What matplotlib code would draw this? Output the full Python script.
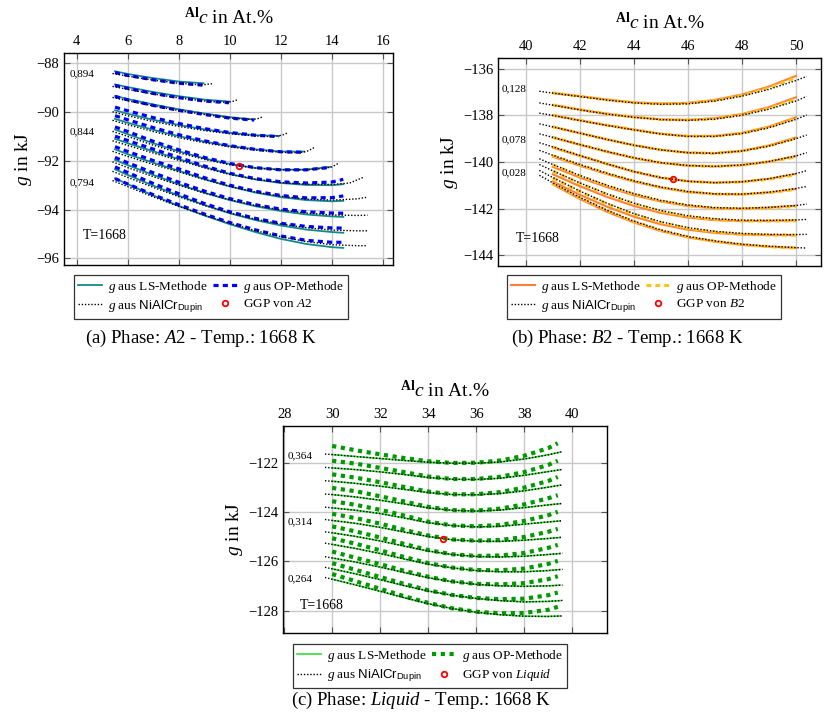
import numpy as np
import matplotlib
matplotlib.use('Agg')
import matplotlib.pyplot as plt
from matplotlib.lines import Line2D

plt.rcParams['font.family'] = ['Liberation Serif', 'DejaVu Serif']
plt.rcParams['mathtext.fontset'] = 'custom'
plt.rcParams['mathtext.rm'] = 'Liberation Serif'
plt.rcParams['mathtext.it'] = 'Liberation Serif:italic'
plt.rcParams['mathtext.bf'] = 'Liberation Serif:bold'
plt.rcParams['mathtext.sf'] = 'Liberation Sans'

# ---------------- Phase A2 ----------------
a_dup_x = [[5.4, 6, 7, 8, 8.6, 9.0, 9.3],
           [5.4, 6, 7, 8, 9, 9.5, 9.9, 10.1, 10.3],
           [5.4, 6, 7, 8, 9, 10, 10.5, 10.9, 11.1, 11.3],
           [5.4, 6, 7, 8, 9, 10, 11, 11.5, 11.9, 12.1, 12.3],
           [5.4, 6, 7, 8, 9, 10, 11, 12, 12.5, 12.9, 13.1, 13.3],
           [5.4, 6, 7, 8, 9, 10, 11, 12, 13, 13.7, 14.0, 14.3],
           [5.4, 6, 7, 8, 9, 10, 11, 12, 13, 14, 14.7, 15.27],
           [5.4, 6, 7, 8, 9, 10, 11, 12, 13, 14, 15, 15.4],
           [5.4, 6, 7, 8, 9, 10, 11, 12, 13, 14, 15, 15.4],
           [5.4, 6, 7, 8, 9, 10, 11, 12, 13, 14, 15, 15.4],
           [5.4, 6, 7, 8, 9, 10, 11, 12, 13, 14, 15, 15.4]]
a_dup_y = [[-88.42, -88.53, -88.69, -88.82, -88.87, -88.88, -88.84],
           [-88.95, -89.07, -89.26, -89.42, -89.55, -89.59, -89.60, -89.57, -89.50],
           [-89.40, -89.54, -89.75, -89.94, -90.10, -90.24, -90.29, -90.30, -90.27, -90.19],
           [-89.99, -90.15, -90.39, -90.59, -90.76, -90.89, -90.98, -91.00, -90.98, -90.93, -90.84],
           [-90.34, -90.52, -90.80, -91.05, -91.26, -91.43, -91.56, -91.65, -91.67, -91.64, -91.58, -91.46],
           [-90.79, -91.00, -91.36, -91.67, -91.94, -92.16, -92.30, -92.37, -92.37, -92.31, -92.25, -92.08],
           [-91.18, -91.37, -91.68, -91.98, -92.29, -92.56, -92.76, -92.89, -92.96, -92.97, -92.91, -92.66],
           [-91.61, -91.82, -92.15, -92.45, -92.77, -93.05, -93.28, -93.45, -93.57, -93.61, -93.56, -93.49],
           [-92.04, -92.28, -92.65, -93.00, -93.32, -93.60, -93.83, -94.01, -94.14, -94.22, -94.24, -94.23],
           [-92.43, -92.68, -93.09, -93.47, -93.83, -94.14, -94.39, -94.59, -94.74, -94.84, -94.87, -94.87],
           [-92.81, -93.06, -93.48, -93.87, -94.23, -94.56, -94.86, -95.11, -95.31, -95.44, -95.48, -95.48]]
a_ls_x = [[5.5, 6, 7, 8, 8.97],
          [5.5, 6, 7, 8, 9, 9.97],
          [5.5, 6, 7, 8, 9, 10, 10.95],
          [5.5, 6, 7, 8, 9, 10, 11, 11.93],
          [5.5, 6, 7, 8, 9, 10, 11, 12, 12.91],
          [5.5, 6, 7, 8, 9, 10, 11, 12, 13, 13.93],
          [5.5, 6, 7, 8, 9, 10, 11, 12, 13, 14, 14.45],
          [5.5, 6, 7, 8, 9, 10, 11, 12, 13, 14, 14.45],
          [5.5, 6, 7, 8, 9, 10, 11, 12, 13, 14, 14.45],
          [5.5, 6, 7, 8, 9, 10, 11, 12, 13, 14, 14.45],
          [5.5, 6, 7, 8, 9, 10, 11, 12, 13, 14, 14.45]]
a_ls_y = [[-88.33, -88.44, -88.61, -88.75, -88.82],
          [-88.87, -88.98, -89.18, -89.35, -89.49, -89.57],
          [-89.34, -89.47, -89.69, -89.89, -90.06, -90.21, -90.31],
          [-89.93, -90.07, -90.32, -90.53, -90.71, -90.85, -90.95, -90.98],
          [-90.28, -90.44, -90.73, -90.99, -91.21, -91.39, -91.53, -91.62, -91.62],
          [-90.72, -90.91, -91.28, -91.61, -91.90, -92.13, -92.29, -92.36, -92.36, -92.25],
          [-91.10, -91.28, -91.61, -91.93, -92.25, -92.54, -92.76, -92.91, -92.99, -93.00, -92.96],
          [-91.53, -91.73, -92.08, -92.41, -92.75, -93.05, -93.30, -93.49, -93.61, -93.66, -93.64],
          [-91.96, -92.18, -92.58, -92.96, -93.31, -93.61, -93.86, -94.06, -94.20, -94.28, -94.30],
          [-92.35, -92.58, -93.02, -93.43, -93.81, -94.15, -94.43, -94.65, -94.82, -94.92, -94.95],
          [-92.72, -92.96, -93.42, -93.85, -94.24, -94.60, -94.92, -95.20, -95.41, -95.54, -95.57]]
a_op_y = [[-88.38, -88.50, -88.68, -88.82, -88.90],
          [-88.91, -89.03, -89.24, -89.41, -89.55, -89.62],
          [-89.36, -89.50, -89.73, -89.93, -90.10, -90.25, -90.33],
          [-89.80, -89.95, -90.23, -90.47, -90.68, -90.84, -90.95, -91.01],
          [-90.15, -90.32, -90.64, -90.93, -91.18, -91.38, -91.53, -91.63, -91.65],
          [-90.61, -90.80, -91.20, -91.55, -91.86, -92.11, -92.28, -92.37, -92.37, -92.27],
          [-90.99, -91.17, -91.52, -91.86, -92.21, -92.51, -92.73, -92.86, -92.91, -92.87, -92.76],
          [-91.42, -91.62, -91.99, -92.33, -92.69, -93.00, -93.25, -93.42, -93.52, -93.51, -93.44],
          [-91.86, -92.08, -92.49, -92.88, -93.24, -93.55, -93.80, -93.98, -94.09, -94.14, -94.15],
          [-92.25, -92.48, -92.93, -93.35, -93.75, -94.09, -94.36, -94.56, -94.69, -94.75, -94.76],
          [-92.73, -92.95, -93.39, -93.80, -94.18, -94.53, -94.83, -95.08, -95.26, -95.34, -95.34]]
a_ggp = (10.37, -92.22)
a_labels = ['0,894', '0,844', '0,794']
a_label_y = [-88.44, -90.80, -92.89]

# ---------------- Phase B2 ----------------
b_dup_x = [40.5, 41, 42, 43, 44, 45, 46, 47, 48, 49, 50, 50.4]
b_dup_y = [[-136.96, -137.04, -137.19, -137.34, -137.46, -137.52, -137.50, -137.38, -137.17, -136.88, -136.50, -136.32],
           [-137.46, -137.56, -137.76, -137.94, -138.08, -138.18, -138.21, -138.16, -137.99, -137.73, -137.38, -137.18],
           [-137.90, -138.00, -138.22, -138.43, -138.62, -138.80, -138.90, -138.90, -138.78, -138.53, -138.17, -137.98],
           [-138.36, -138.49, -138.76, -139.03, -139.28, -139.48, -139.60, -139.63, -139.53, -139.32, -139.00, -138.84],
           [-138.79, -138.94, -139.25, -139.55, -139.82, -140.03, -140.15, -140.19, -140.13, -139.98, -139.74, -139.60],
           [-139.17, -139.35, -139.72, -140.08, -140.41, -140.67, -140.83, -140.89, -140.85, -140.72, -140.50, -140.37],
           [-139.50, -139.71, -140.11, -140.48, -140.81, -141.08, -141.27, -141.37, -141.38, -141.30, -141.14, -141.05],
           [-139.86, -140.11, -140.58, -141.00, -141.36, -141.65, -141.85, -141.96, -141.99, -141.95, -141.87, -141.81],
           [-140.11, -140.38, -140.90, -141.37, -141.77, -142.09, -142.31, -142.44, -142.50, -142.51, -142.49, -142.47],
           [-140.36, -140.67, -141.25, -141.77, -142.22, -142.57, -142.82, -142.98, -143.07, -143.11, -143.12, -143.11],
           [-140.57, -140.90, -141.52, -142.07, -142.54, -142.92, -143.20, -143.39, -143.53, -143.62, -143.68, -143.70]]
b_ls_x = [41, 42, 43, 44, 45, 46, 47, 48, 49, 50]
b_ls_y = [[-137.03, -137.17, -137.32, -137.44, -137.49, -137.46, -137.33, -137.10, -136.76, -136.30],
          [-137.55, -137.75, -137.93, -138.07, -138.17, -138.19, -138.12, -137.94, -137.64, -137.22],
          [-137.99, -138.21, -138.42, -138.61, -138.79, -138.89, -138.88, -138.75, -138.48, -138.08],
          [-138.49, -138.76, -139.03, -139.28, -139.48, -139.60, -139.62, -139.52, -139.29, -138.95],
          [-138.95, -139.26, -139.56, -139.83, -140.04, -140.16, -140.19, -140.13, -139.98, -139.75],
          [-139.38, -139.74, -140.09, -140.42, -140.68, -140.83, -140.89, -140.85, -140.72, -140.51],
          [-139.77, -140.16, -140.52, -140.84, -141.10, -141.29, -141.38, -141.39, -141.31, -141.16],
          [-140.21, -140.67, -141.08, -141.43, -141.70, -141.89, -141.99, -142.01, -141.96, -141.88],
          [-140.53, -141.04, -141.50, -141.89, -142.19, -142.39, -142.50, -142.54, -142.53, -142.51],
          [-140.84, -141.41, -141.92, -142.35, -142.68, -142.91, -143.05, -143.12, -143.14, -143.14],
          [-140.96, -141.59, -142.14, -142.60, -142.97, -143.24, -143.42, -143.56, -143.64, -143.69]]
b_op_y = [[-137.03, -137.18, -137.33, -137.45, -137.50, -137.48, -137.36, -137.14, -136.82, -136.38],
          [-137.55, -137.75, -137.93, -138.07, -138.17, -138.20, -138.14, -137.97, -137.69, -137.30],
          [-137.99, -138.21, -138.42, -138.61, -138.79, -138.89, -138.89, -138.77, -138.51, -138.13],
          [-138.49, -138.76, -139.03, -139.28, -139.48, -139.60, -139.63, -139.53, -139.31, -138.98],
          [-138.94, -139.25, -139.55, -139.82, -140.03, -140.15, -140.19, -140.14, -139.99, -139.78],
          [-139.36, -139.73, -140.08, -140.41, -140.67, -140.83, -140.89, -140.86, -140.74, -140.55],
          [-139.73, -140.13, -140.49, -140.82, -141.09, -141.28, -141.38, -141.39, -141.32, -141.18],
          [-140.13, -140.60, -141.02, -141.38, -141.67, -141.87, -141.98, -142.01, -141.97, -141.91],
          [-140.40, -140.92, -141.39, -141.79, -142.12, -142.34, -142.47, -142.53, -142.54, -142.53],
          [-140.69, -141.27, -141.80, -142.25, -142.60, -142.85, -143.01, -143.10, -143.14, -143.15],
          [-140.92, -141.54, -142.09, -142.56, -142.94, -143.22, -143.41, -143.55, -143.64, -143.70]]
b_ggp = (45.44, -140.72)
b_labels = ['0,128', '0,078', '0,028']
b_label_y = [-136.87, -139.05, -140.46]

# ---------------- Phase Liquid ----------------
c_dup_x = [29.7, 30, 31, 32, 33, 34, 35, 36, 37, 38, 39, 39.6]
c_dup_y = [[-121.65, -121.67, -121.75, -121.83, -121.91, -121.98, -122.02, -122.02, -121.97, -121.85, -121.68, -121.55],
           [-122.19, -122.21, -122.28, -122.37, -122.48, -122.60, -122.67, -122.68, -122.63, -122.51, -122.36, -122.27],
           [-122.73, -122.75, -122.84, -122.95, -123.08, -123.21, -123.29, -123.30, -123.25, -123.14, -122.99, -122.90],
           [-123.27, -123.29, -123.39, -123.52, -123.67, -123.83, -123.93, -123.96, -123.92, -123.82, -123.71, -123.65],
           [-123.80, -123.83, -123.93, -124.06, -124.24, -124.43, -124.55, -124.60, -124.58, -124.49, -124.40, -124.35],
           [-124.30, -124.34, -124.46, -124.62, -124.81, -124.99, -125.12, -125.18, -125.19, -125.14, -125.07, -125.02],
           [-124.80, -124.84, -124.99, -125.17, -125.38, -125.58, -125.72, -125.80, -125.82, -125.79, -125.72, -125.67],
           [-125.26, -125.31, -125.48, -125.68, -125.90, -126.11, -126.26, -126.37, -126.42, -126.42, -126.37, -126.32],
           [-125.81, -125.86, -126.03, -126.23, -126.45, -126.66, -126.82, -126.93, -126.99, -127.01, -126.99, -126.96],
           [-126.24, -126.30, -126.51, -126.74, -126.98, -127.20, -127.37, -127.50, -127.59, -127.64, -127.62, -127.58],
           [-126.65, -126.72, -126.96, -127.21, -127.47, -127.71, -127.91, -128.06, -128.16, -128.22, -128.23, -128.21]]
c_ls_x = [30, 31, 32, 33, 34, 35, 36, 37, 38, 39, 39.5]
c_ls_y = [[-121.67, -121.75, -121.83, -121.91, -121.98, -122.02, -122.02, -121.97, -121.85, -121.68, -121.57],
          [-122.21, -122.28, -122.37, -122.48, -122.60, -122.67, -122.68, -122.63, -122.51, -122.36, -122.29],
          [-122.75, -122.84, -122.95, -123.08, -123.21, -123.29, -123.30, -123.25, -123.14, -122.99, -122.91],
          [-123.29, -123.39, -123.52, -123.67, -123.83, -123.93, -123.96, -123.92, -123.82, -123.71, -123.66],
          [-123.83, -123.93, -124.06, -124.24, -124.43, -124.55, -124.60, -124.58, -124.49, -124.40, -124.36],
          [-124.34, -124.46, -124.62, -124.81, -124.99, -125.12, -125.18, -125.19, -125.14, -125.07, -125.03],
          [-124.84, -124.99, -125.17, -125.38, -125.58, -125.72, -125.80, -125.82, -125.79, -125.72, -125.68],
          [-125.31, -125.48, -125.68, -125.90, -126.11, -126.26, -126.37, -126.42, -126.42, -126.37, -126.33],
          [-125.86, -126.03, -126.23, -126.45, -126.66, -126.82, -126.93, -126.99, -127.01, -126.99, -126.96],
          [-126.30, -126.51, -126.74, -126.98, -127.20, -127.37, -127.50, -127.59, -127.64, -127.62, -127.59],
          [-126.72, -126.96, -127.21, -127.47, -127.71, -127.91, -128.06, -128.16, -128.22, -128.23, -128.21]]
c_op_x = [30, 31, 32, 33, 34, 35, 36, 37, 38, 39, 39.4]
c_op_y = [[-121.32, -121.50, -121.66, -121.81, -121.94, -122.01, -122.00, -121.91, -121.72, -121.41, -121.21],
          [-121.92, -122.04, -122.21, -122.38, -122.56, -122.66, -122.66, -122.57, -122.38, -122.09, -121.92],
          [-122.47, -122.61, -122.79, -122.98, -123.17, -123.28, -123.28, -123.19, -123.01, -122.74, -122.58],
          [-123.02, -123.16, -123.36, -123.57, -123.79, -123.92, -123.94, -123.86, -123.69, -123.44, -123.32],
          [-123.56, -123.71, -123.91, -124.14, -124.39, -124.54, -124.58, -124.52, -124.36, -124.13, -123.99],
          [-124.07, -124.25, -124.47, -124.72, -124.95, -125.11, -125.16, -125.13, -125.01, -124.80, -124.68],
          [-124.58, -124.79, -125.03, -125.29, -125.54, -125.71, -125.78, -125.76, -125.66, -125.45, -125.33],
          [-125.06, -125.29, -125.55, -125.82, -126.07, -126.25, -126.35, -126.36, -126.29, -126.10, -125.98],
          [-125.60, -125.86, -126.11, -126.38, -126.62, -126.81, -126.91, -126.93, -126.88, -126.72, -126.60],
          [-126.07, -126.35, -126.63, -126.91, -127.17, -127.36, -127.48, -127.53, -127.51, -127.37, -127.26],
          [-126.51, -126.81, -127.11, -127.41, -127.68, -127.90, -128.04, -128.10, -128.09, -127.96, -127.84]]
c_ggp = (34.60, -125.08)
c_labels = ['0,364', '0,314', '0,264']
c_label_y = [-121.72, -124.39, -126.69]

fig = plt.figure(figsize=(8.24, 7.23), dpi=100)

dup_style = dict(color='black', lw=1.0, ls=(0, (1, 1.3)), zorder=4)


def setup(ax, xlim, ylim, xticks, yticks):
    ax.set_xlim(*xlim)
    ax.set_ylim(*ylim)
    ax.set_xticks(xticks)
    ax.set_yticks(yticks)
    ax.set_yticklabels(['\u2212%d' % abs(v) for v in yticks])
    ax.grid(True, color='#c8c8c8', lw=1.0)
    ax.set_axisbelow(True)
    ax.tick_params(direction='in', top=True, bottom=True, left=True, right=True,
                   labeltop=True, labelbottom=False, labelsize=10.5, length=4,
                   color='#555555')
    ax.xaxis.set_label_position('top')
    ax.set_xlabel(r'${}^{\mathbf{Al}}c$ in At.%', fontsize=14, labelpad=8)
    ax.set_ylabel(r'$g$ in kJ', fontsize=14, labelpad=2)
    for s in ax.spines.values():
        s.set_linewidth(1.0)


def legend(ax, ls_color, ls_lw, op_color, op_lw, op_ls, phase, anchor):
    handles = [Line2D([], [], color=ls_color, lw=ls_lw),
               Line2D([], [], color='black', lw=1.0, ls=(0, (1, 1.3))),
               Line2D([], [], color=op_color, lw=op_lw, ls=op_ls),
               Line2D([], [], color='red', marker='o', ls='none', ms=4,
                      mfc='none', mew=1.3)]
    labels = [r'$g$ aus LS-Methode',
              r'$g$ aus $\mathsf{NiAlCr}_{\mathsf{Dupin}}$',
              r'$g$ aus OP-Methode',
              r'GGP von $\mathit{%s}$' % phase]
    leg = ax.legend(handles, labels, ncol=2, loc='upper center',
                    bbox_to_anchor=anchor, fontsize=9.5, frameon=True,
                    fancybox=False, edgecolor='black', handlelength=1.8,
                    columnspacing=0.4, handletextpad=0.5, labelspacing=0.25,
                    borderpad=0.3, borderaxespad=0)
    leg.get_frame().set_linewidth(0.9)


# (a)
ax = fig.add_axes([0.0777, 0.6335, 0.3993, 0.2932])
for i in range(len(a_dup_y)):
    ax.plot(a_ls_x[i], a_ls_y[i], color='#138a8a', lw=1.3, zorder=2)
    ax.plot(a_ls_x[i], a_op_y[i], color='#0000ff', lw=2.3, ls=(0, (1.6, 1.3)), zorder=3)
    ax.plot(a_dup_x[i], a_dup_y[i], **dup_style)
ax.plot(*a_ggp, 'o', ms=4, mfc='none', mec='red', mew=1.3, zorder=5)
setup(ax, (3.5, 16.4), (-96.27, -87.58), range(4, 17, 2), range(-96, -87, 2))
for t, y in zip(a_labels, a_label_y):
    ax.text(3.70, y, t, fontsize=8, va='center', ha='left')
ax.text(4.22, -95.08, 'T=1668', fontsize=10, va='center', ha='left')
legend(ax, '#138a8a', 1.3, '#0000ff', 2.3, (0, (1.6, 1.3)), 'A2', (0.447, -0.047))
fig.text(0.243, 1 - 338 / 723, r'(a) Phase: $\mathit{A2}$ - Temp.: 1668 K',
         fontsize=13.5, ha='center', va='center')

# (b)
ax = fig.add_axes([0.6044, 0.6321, 0.392, 0.2877])
for i in range(len(b_dup_y)):
    ax.plot(b_ls_x, b_ls_y[i], color='#ff7f3a', lw=1.5, zorder=2)
    ax.plot(b_ls_x, b_op_y[i], color='#ffc20e', lw=2.2, ls=(0, (1.6, 1.3)), zorder=3)
    ax.plot(b_dup_x, b_dup_y[i], **dup_style)
ax.plot(*b_ggp, 'o', ms=4, mfc='none', mec='red', mew=1.3, zorder=5)
setup(ax, (38.97, 50.93), (-144.47, -135.53), range(40, 51, 2), range(-144, -135, 2))
for t, y in zip(b_labels, b_label_y):
    ax.text(39.11, y, t, fontsize=8, va='center', ha='left')
ax.text(39.64, -143.28, 'T=1668', fontsize=10, va='center', ha='left')
legend(ax, '#ff7f3a', 1.5, '#ffc20e', 2.2, (0, (1.6, 1.3)), 'B2', (0.452, -0.043))
fig.text(627 / 824, 1 - 338 / 723, r'(b) Phase: $\mathit{B2}$ - Temp.: 1668 K',
         fontsize=13.5, ha='center', va='center')

# (c)
ax = fig.add_axes([0.3434, 0.1245, 0.3932, 0.2867])
for i in range(len(c_dup_y)):
    ax.plot(c_ls_x, c_ls_y[i], color='#33dd33', lw=1.2, zorder=2)
    ax.plot(c_op_x, c_op_y[i], color='#009a00', lw=3.0, ls=(0, (1, 1.1)), zorder=3)
    ax.plot(c_dup_x, c_dup_y[i], **dup_style)
ax.plot(*c_ggp, 'o', ms=4, mfc='none', mec='red', mew=1.3, zorder=5)
setup(ax, (27.95, 41.45), (-128.9, -120.5), range(28, 41, 2), range(-128, -121, 2))
for t, y in zip(c_labels, c_label_y):
    ax.text(28.13, y, t, fontsize=8, va='center', ha='left')
ax.text(28.65, -127.77, 'T=1668', fontsize=10, va='center', ha='left')
legend(ax, '#33dd33', 1.2, '#009a00', 3.0, (0, (1, 1.1)), 'Liquid', (0.454, -0.053))
fig.text(421 / 824, 1 - 700 / 723, r'(c) Phase: $\mathit{Liquid}$ - Temp.: 1668 K',
         fontsize=13.5, ha='center', va='center')

fig.savefig('out.png', dpi=100)
